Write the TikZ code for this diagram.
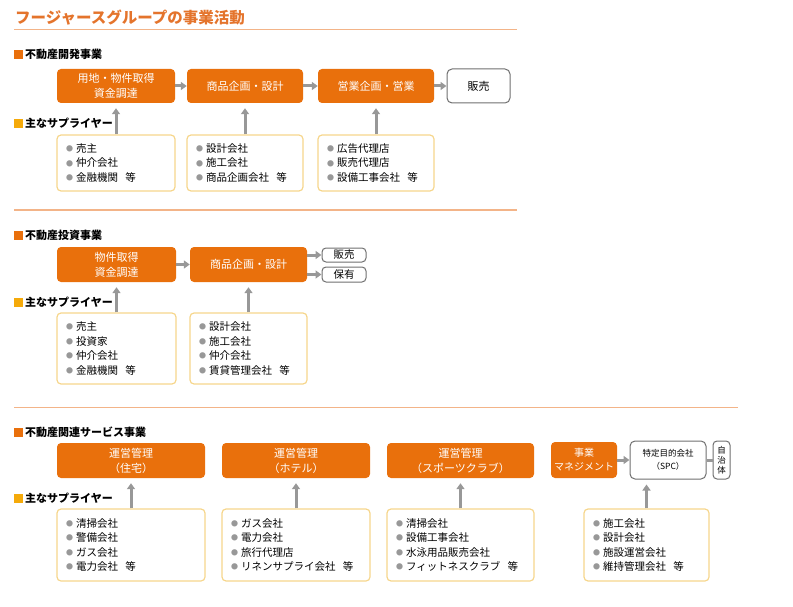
\documentclass[tikz,border=0pt]{standalone}
\usepackage{fontspec}
\setmainfont{Noto Sans CJK JP}
\usetikzlibrary{arrows.meta}

\definecolor{boxorange}{RGB}{233,112,12}
\definecolor{titleorange}{RGB}{228,116,44}
\definecolor{ruleorange}{RGB}{243,180,136}
\definecolor{supgold}{RGB}{245,170,10}
\definecolor{supedge}{RGB}{246,214,140}
\definecolor{arrowgray}{RGB}{152,152,152}
\definecolor{edgegray}{RGB}{112,112,112}

\newcommand{\bul}{{\color{arrowgray}\raisebox{0.15ex}{\fontsize{7}{7}\selectfont ●}}\hspace{3pt}}
\newcommand{\etc}{\hspace{0.7em}等}
\newcommand{\hdsq}[1]{{\color{#1}\rule[-0.5pt]{9pt}{9pt}}\hspace{2pt}}

\begin{document}
\begin{tikzpicture}[x=1pt,y=-1pt,
  job/.style={fill=boxorange,rounded corners=4pt,text=white,align=center,inner sep=0pt,font=\fontsize{11}{15}\selectfont},
  endbox/.style={draw=edgegray,line width=1pt,fill=white,rounded corners=5pt,align=center,inner sep=0pt,font=\fontsize{11}{15}\selectfont},
  supbox/.style={draw=supedge,line width=1.2pt,rounded corners=4pt,align=left,inner xsep=9pt,inner ysep=0pt,font=\fontsize{10.5}{14.5}\selectfont},
  hd/.style={anchor=west,inner sep=0pt,font=\fontsize{11}{11}\selectfont\bfseries},
  flow/.style={draw=arrowgray,line width=3pt,-{Triangle[width=8pt,length=6pt]}},
  sepline/.style={draw=ruleorange,line width=1pt}]

\useasboundingbox (0,0) rectangle (793,607);

% title
\node[anchor=west,inner sep=0pt,text=titleorange,font=\fontsize{15.5}{15.5}\selectfont\bfseries] (title) at (15,18) {フージャースグループの事業活動};
\draw[sepline] (14,30) -- (517,30);

% --- development
\node[hd] (devhd) at (14,54) {\hdsq{boxorange}不動産開発事業};
\node[job,minimum width=118pt,minimum height=34pt] (dev1) at (116,86) {用地・物件取得\\資金調達};
\node[job,minimum width=116pt,minimum height=34pt] (dev2) at (245,86) {商品企画・設計};
\node[job,minimum width=116pt,minimum height=34pt] (dev3) at (376,86) {営業企画・営業};
\node[endbox,minimum width=63pt,minimum height=34pt] (dev4) at (478.5,86) {販売};
\draw[flow] (dev1) -- (dev2);
\draw[flow] (dev2) -- (dev3);
\draw[flow] (dev3) -- (dev4);

\node[hd] (devsup) at (14,123) {\hdsq{supgold}主なサプライヤー};
\node[supbox,text width=100pt,minimum height=56pt] (s11) at (116,163) {\bul 売主\\\bul 仲介会社\\\bul 金融機関\etc};
\node[supbox,text width=98pt,minimum height=56pt] (s12) at (245,163) {\bul 設計会社\\\bul 施工会社\\\bul 商品企画会社\etc};
\node[supbox,text width=98pt,minimum height=56pt] (s13) at (376,163) {\bul 広告代理店\\\bul 販売代理店\\\bul 設備工事会社\etc};
\draw[flow,shorten >=5pt] (s11) -- (s11 |- dev1.south);
\draw[flow,shorten >=5pt] (s12) -- (s12 |- dev2.south);
\draw[flow,shorten >=5pt] (s13) -- (s13 |- dev3.south);

\draw[sepline] (14,210) -- (517,210);

% --- investment
\node[hd] (invhd) at (14,235) {\hdsq{boxorange}不動産投資事業};
\node[job,minimum width=119pt,minimum height=35pt] (inv1) at (116.5,264.5) {物件取得\\資金調達};
\node[job,minimum width=117pt,minimum height=35pt] (inv2) at (248.5,264.5) {商品企画・設計};
\node[endbox,rounded corners=4pt,minimum width=44pt,minimum height=14pt,font=\fontsize{10.5}{10.5}\selectfont] (inv3) at (344,255) {販売};
\node[endbox,rounded corners=4pt,minimum width=44pt,minimum height=15pt,font=\fontsize{10.5}{10.5}\selectfont] (inv4) at (344,274.5) {保有};
\draw[flow] (inv1) -- (inv2);
\draw[flow] (inv2.east |- inv3) -- (inv3);
\draw[flow] (inv2.east |- inv4) -- (inv4);

\node[hd] (invsup) at (14,302) {\hdsq{supgold}主なサプライヤー};
\node[supbox,text width=101pt,minimum height=71pt] (s21) at (116.5,348.5) {\bul 売主\\\bul 投資家\\\bul 仲介会社\\\bul 金融機関\etc};
\node[supbox,text width=99pt,minimum height=71pt] (s22) at (248.5,348.5) {\bul 設計会社\\\bul 施工会社\\\bul 仲介会社\\\bul 賃貸管理会社\etc};
\draw[flow,shorten >=5pt] (s21) -- (s21 |- inv1.south);
\draw[flow,shorten >=5pt] (s22) -- (s22 |- inv2.south);

\draw[sepline] (14,407) -- (738,407);

% --- services
\node[hd] (svchd) at (14,432) {\hdsq{boxorange}不動産関連サービス事業};
\node[job,minimum width=148pt,minimum height=35pt] (svc1) at (131,460.5) {運営管理\\（住宅）};
\node[job,minimum width=148pt,minimum height=35pt] (svc2) at (296,460.5) {運営管理\\（ホテル）};
\node[job,minimum width=147pt,minimum height=35pt] (svc3) at (460.5,460.5) {運営管理\\（スポーツクラブ）};
\node[job,minimum width=66pt,minimum height=36pt,font=\fontsize{10}{14}\selectfont] (svc4) at (584,460) {事業\\マネジメント};
\node[endbox,minimum width=76pt,minimum height=38pt,font=\fontsize{8.5}{12.5}\selectfont] (spc) at (668,460) {特定目的会社\\（SPC）};
\node[endbox,rounded corners=4pt,minimum width=17pt,minimum height=38pt,font=\fontsize{8.5}{10}\selectfont] (gov) at (721.5,460) {自\\治\\体};
\draw[flow] (svc4) -- (spc);
\draw[draw=arrowgray,line width=3pt] (spc) -- (gov);

\node[hd] (svcsup) at (14,498) {\hdsq{supgold}主なサプライヤー};
\node[supbox,text width=130pt,minimum height=72pt] (s31) at (131,545) {\bul 清掃会社\\\bul 警備会社\\\bul ガス会社\\\bul 電力会社\etc};
\node[supbox,text width=130pt,minimum height=72pt] (s32) at (296,545) {\bul ガス会社\\\bul 電力会社\\\bul 旅行代理店\\\bul リネンサプライ会社\etc};
\node[supbox,text width=129pt,minimum height=72pt] (s33) at (460.5,545) {\bul 清掃会社\\\bul 設備工事会社\\\bul 水泳用品販売会社\\\bul フィットネスクラブ\etc};
\node[supbox,text width=107pt,minimum height=72pt] (s34) at (646.5,545) {\bul 施工会社\\\bul 設計会社\\\bul 施設運営会社\\\bul 維持管理会社\etc};
\draw[flow,shorten >=5pt] (s31) -- (s31 |- svc1.south);
\draw[flow,shorten >=5pt] (s32) -- (s32 |- svc2.south);
\draw[flow,shorten >=5pt] (s33) -- (s33 |- svc3.south);
\draw[flow,shorten >=5pt] (s34) -- (s34 |- spc.south);

\end{tikzpicture}
\end{document}
